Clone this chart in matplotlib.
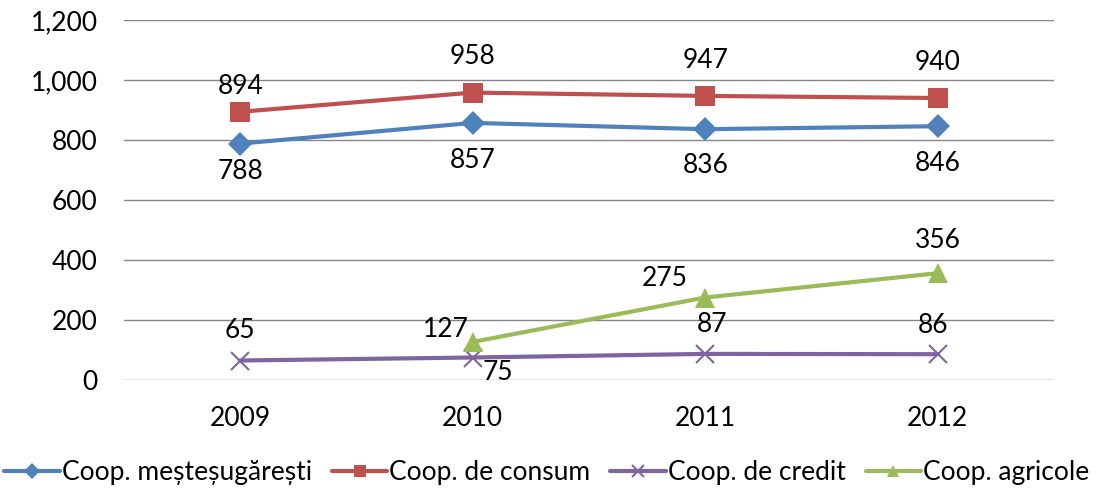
import matplotlib.pyplot as plt
from matplotlib.ticker import FuncFormatter

plt.rcParams['font.family'] = ['Lato', 'DejaVu Sans']

years = ['2009', '2010', '2011', '2012']
mestesugaresti = [788, 857, 836, 846]
consum = [894, 958, 947, 940]
credit = [65, 75, 87, 86]
agricole = [None, 127, 275, 356]  # no agricultural coops reported for 2009

names = ['Coop. meșteșugărești', 'Coop. de consum', 'Coop. de credit', 'Coop. agricole']
colors = ['#4F81BD', '#C0504D', '#8064A2', '#9BBB59']
markers = ['D', 's', 'x', '^']
msizes = [12, 14, 13, 14]

# label offsets in pixels (dx, dy) for each point
offsets = [
    [(0, -28), (0, -38), (0, -36), (0, -37)],
    [(0, 25), (0, 36), (0, 35), (0, 35)],
    [(0, 30), (25, -15), (7, 29), (-5, 29)],
    [None, (-27, 12), (-41, 19), (0, 33)],
]

FS = 19

fig = plt.figure(figsize=(10.96, 4.91), dpi=100)
ax = fig.add_axes([124 / 1096, 111 / 491, 930 / 1096, 360 / 491])

x = list(range(len(years)))
series = [mestesugaresti, consum, credit, agricole]
for vals, name, c, m, ms, offs in zip(series, names, colors, markers, msizes, offsets):
    xs = [i for i, v in zip(x, vals) if v is not None]
    ys = [v for v in vals if v is not None]
    kw = dict(markeredgewidth=1.5) if m == 'x' else dict(markeredgewidth=0)
    ax.plot(xs, ys, color=c, lw=3, marker=m, markersize=ms, label=name, zorder=3,
            solid_capstyle='round', **kw)
    for i, v, off in zip(x, vals, offs):
        if v is None:
            continue
        ax.annotate(f'{v}', (i, v), xytext=off, textcoords='offset pixels',
                    ha='center', va='center', fontsize=FS, color='black', zorder=4)

ax.set_xlim(-0.5, 3.5)
ax.set_ylim(0, 1200)
ax.set_yticks(range(0, 1201, 200))
ax.yaxis.set_major_formatter(FuncFormatter(lambda v, p: f'{int(v):,}'))
ax.set_xticks(x)
ax.set_xticklabels(years)
ax.tick_params(axis='both', length=0, labelsize=FS)
ax.tick_params(axis='x', pad=19)
ax.tick_params(axis='y', pad=19)
ax.grid(axis='y', color='#868686', lw=1)
ax.set_axisbelow(True)
for s in ax.spines.values():
    s.set_visible(False)

fig.legend(loc='lower center', bbox_to_anchor=(0.499, -0.02), ncol=4, frameon=False,
           fontsize=FS, handlelength=2.1, handletextpad=0.08, columnspacing=0.75,
           markerscale=0.65, borderaxespad=0.2)

fig.savefig('out.png', dpi=100)
